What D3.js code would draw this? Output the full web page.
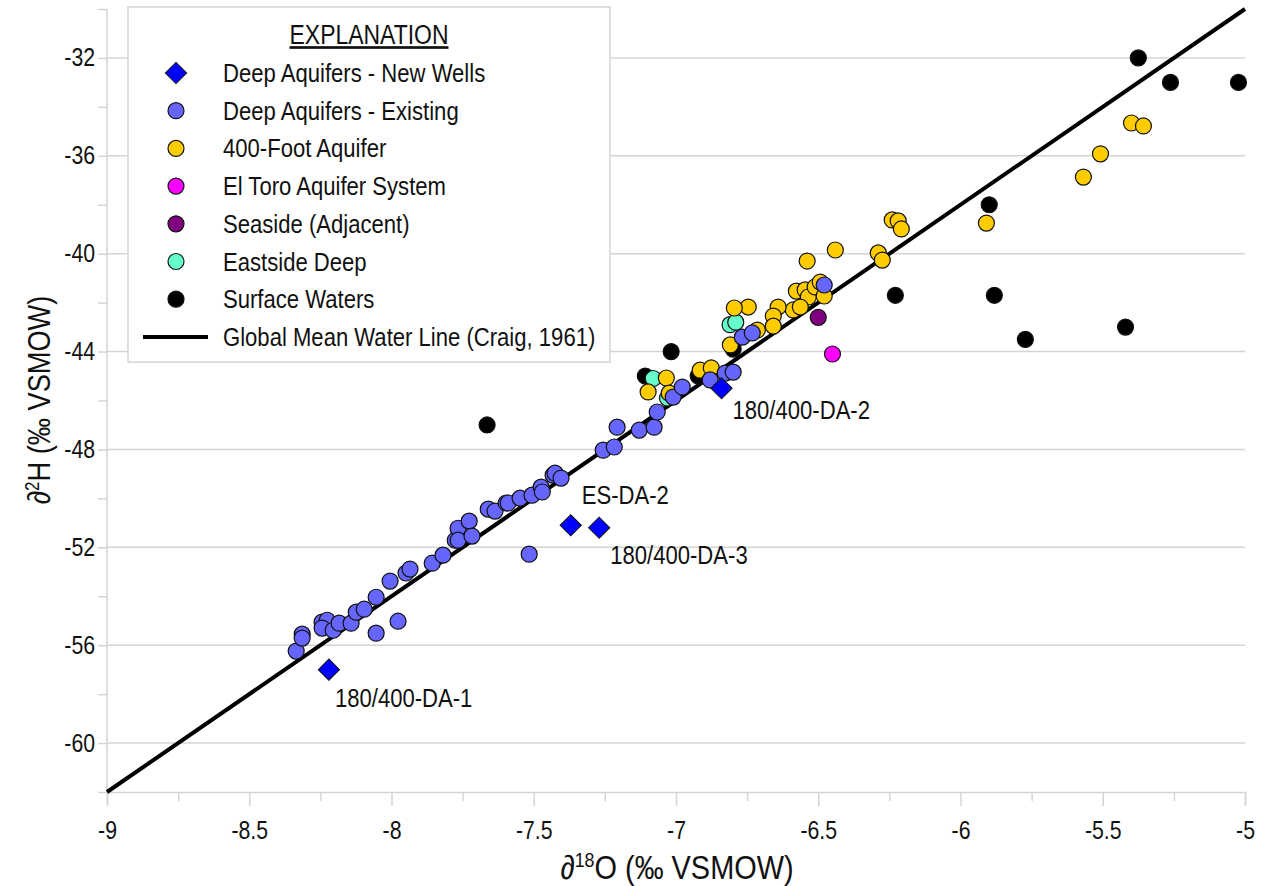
<!DOCTYPE html>
<html>
<head>
<meta charset="utf-8">
<script src="https://cdn.jsdelivr.net/npm/d3@7"></script>
<style>
  body { margin: 0; background: #fff; }
  svg text { font-family: "Liberation Sans", Arial, sans-serif; fill: #111; }
</style>
</head>
<body>
<svg id="chart" width="1263" height="886"></svg>
<script>
// ---- data (d18O, d2H in permil VSMOW) ----
var newWellsX = [-8.22, -7.37, -7.27, -6.84];
var newWellsY = [-57.0, -51.1, -51.2, -45.5];
var newWellsLabel = ["180/400-DA-1", "ES-DA-2", "180/400-DA-3", "180/400-DA-2"];

var deepX = [-8.335, -8.314, -8.314, -8.244, -8.226, -8.244, -8.205, -8.184, -8.142, -8.124,
             -8.096, -8.054, -8.005, -7.949, -7.935, -8.054, -7.977, -7.857, -7.819, -7.776,
             -7.766, -7.766, -7.727, -7.717, -7.660, -7.636, -7.597, -7.590, -7.548, -7.506,
             -7.474, -7.470, -7.432, -7.425, -7.404, -7.516, -7.256, -7.217, -7.207, -7.129,
             -7.077, -7.066, -7.010, -6.978, -6.880, -6.827, -6.799, -6.767, -6.732, -6.479];
var deepY = [-56.24, -55.55, -55.71, -55.06, -54.98, -55.30, -55.39, -55.10, -55.10, -54.65,
             -54.53, -54.04, -53.38, -53.05, -52.89, -55.51, -55.02, -52.65, -52.32, -51.71,
             -51.22, -51.71, -50.93, -51.54, -50.44, -50.52, -50.19, -50.19, -49.99, -49.87,
             -49.54, -49.74, -49.05, -48.97, -49.17, -52.28, -48.03, -47.90, -47.09, -47.21,
             -47.09, -46.47, -45.86, -45.45, -45.16, -44.88, -44.84, -43.41, -43.24, -41.28];

var ftX = [-5.399, -5.357, -5.508, -5.568, -5.909, -6.240, -6.219, -6.208, -6.289, -6.275,
           -6.440, -6.539, -6.577, -6.546, -6.535, -6.511, -6.493, -6.479, -6.588, -6.563,
           -6.641, -6.658, -6.658, -6.746, -6.795, -6.714, -6.809, -6.915, -6.876, -7.034,
           -7.098, -7.024];
var ftY = [-34.66, -34.78, -35.92, -36.87, -38.75, -38.62, -38.66, -38.99, -39.97, -40.26,
           -39.85, -40.30, -41.53, -41.48, -41.77, -41.36, -41.16, -41.73, -42.30, -42.18,
           -42.18, -42.55, -42.96, -42.18, -42.22, -43.12, -43.73, -44.76, -44.67, -45.08,
           -45.65, -45.70];

var elToroX = [-6.45];
var elToroY = [-44.1];
var seasideX = [-6.50];
var seasideY = [-42.6];
var eastX = [-6.81, -6.79, -7.08, -7.03];
var eastY = [-42.9, -42.8, -45.1, -45.9];

var surfX = [-5.375, -5.262, -5.023, -5.899, -6.229, -5.881, -5.420, -5.772, -7.017, -7.108,
             -7.664, -6.799, -6.922];
var surfY = [-32.0, -33.0, -33.0, -38.0, -41.7, -41.7, -43.0, -43.5, -44.0, -45.0,
             -47.0, -43.9, -45.0];

// Global Mean Water Line (Craig, 1961) end points
var gmwlX = [-9, -5];
var gmwlY = [-62, -30];

var xTicks = [-9, -8.5, -8, -7.5, -7, -6.5, -6, -5.5, -5];
var yTicks = [-60, -56, -52, -48, -44, -40, -36, -32];

var zip = function(xs, ys){ return xs.map(function(x, i){ return {x: x, y: ys[i]}; }); };

var series = [
  {name: "Deep Aquifers - New Wells", shape: "diamond", fill: "#0000ff", pts: zip(newWellsX, newWellsY)},
  {name: "Deep Aquifers - Existing", shape: "circle", fill: "#6666ff", pts: zip(deepX, deepY)},
  {name: "400-Foot Aquifer", shape: "circle", fill: "#ffcc00", pts: zip(ftX, ftY)},
  {name: "El Toro Aquifer System", shape: "circle", fill: "#ff00ff", pts: zip(elToroX, elToroY)},
  {name: "Seaside (Adjacent)", shape: "circle", fill: "#800080", pts: zip(seasideX, seasideY)},
  {name: "Eastside Deep", shape: "circle", fill: "#66ffcc", pts: zip(eastX, eastY)},
  {name: "Surface Waters", shape: "circle", fill: "#000000", pts: zip(surfX, surfY)}
];

// ---- layout ----
var svg = d3.select("#chart");
var pLeft = 107, pRight = 1245, pTop = 9, pBottom = 792;
var NARROW = 0.85;   // the original uses a narrow face
var R = 8;

var x = d3.scaleLinear().domain([-9, -5]).range([pLeft, pRight]);
var y = d3.scaleLinear().domain([-62, -30]).range([pBottom, pTop]);

var gridColor = "#d4d4d4";

// text placed at (tx,ty) and squeezed horizontally
function narrowText(parent, tx, ty, size, str){
  return parent.append("text")
    .attr("transform", "translate(" + tx + "," + ty + ") scale(" + NARROW + ",1)")
    .attr("font-size", size).text(str);
}

// horizontal grid
svg.append("g").selectAll("line").data(yTicks).enter().append("line")
  .attr("x1", pLeft).attr("x2", pRight)
  .attr("y1", function(d){ return y(d); }).attr("y2", function(d){ return y(d); })
  .attr("stroke", gridColor).attr("stroke-width", 1.5);

// x axis
var xAxis = d3.axisBottom(x).tickValues(d3.range(-9, -4.99, 0.25)).tickSize(13)
  .tickFormat(function(d){ return xTicks.indexOf(d) >= 0 ? String(d) : ""; });
var gx = svg.append("g").attr("transform", "translate(0," + pBottom + ")").call(xAxis);
gx.attr("font-family", null).attr("font-size", null);
gx.select(".domain").attr("stroke", gridColor).attr("stroke-width", 1.5);
gx.selectAll(".tick line").attr("stroke", gridColor).attr("stroke-width", 1.5)
  .attr("y2", function(d){ return xTicks.indexOf(d) >= 0 ? 14 : 9; });
gx.selectAll(".tick text").attr("y", 29).attr("font-size", 25).attr("fill", "#111")
  .attr("transform", "scale(" + NARROW + ",1)");

// y axis
var yAxis = d3.axisLeft(y).tickValues(d3.range(-62, -29.9, 2)).tickSize(9)
  .tickFormat(function(d){ return yTicks.indexOf(d) >= 0 ? String(d) : ""; });
var gy = svg.append("g").attr("transform", "translate(" + pLeft + ",0)").call(yAxis);
gy.attr("font-family", null).attr("font-size", null);
gy.select(".domain").attr("stroke", gridColor).attr("stroke-width", 1.5)
  .attr("d", "M0," + pTop + "V" + pBottom);
gy.selectAll(".tick line").attr("stroke", gridColor).attr("stroke-width", 1.5);
gy.selectAll(".tick text").attr("x", -12 / NARROW).attr("font-size", 25).attr("fill", "#111")
  .attr("transform", "scale(" + NARROW + ",1)");

// axis titles
svg.append("text")
  .attr("transform", "translate(" + 677 + ",879) scale(" + NARROW + ",1)")
  .attr("text-anchor", "middle").attr("font-size", 34)
  .html('∂<tspan baseline-shift="super" font-size="21">18</tspan>O (‰ VSMOW)');
svg.append("text")
  .attr("transform", "translate(50,400) rotate(-90) scale(" + NARROW + ",1)")
  .attr("text-anchor", "middle").attr("font-size", 32)
  .html('∂<tspan baseline-shift="super" font-size="20">2</tspan>H (‰ VSMOW)');

// GMWL line
var line = d3.line().x(function(d){ return x(d.x); }).y(function(d){ return y(d.y); });
svg.append("path").datum(zip(gmwlX, gmwlY)).attr("d", line)
  .attr("fill", "none").attr("stroke", "#000").attr("stroke-width", 4);

// points (draw order: surface, eastside, 400-ft, deep, others, new wells)
var order = [6, 5, 2, 1, 4, 3, 0];
var diamond = d3.symbol().type(d3.symbolSquare).size(225);
order.forEach(function(si){
  var s = series[si];
  var g = svg.append("g");
  if (s.shape === "diamond") {
    g.selectAll("path").data(s.pts).enter().append("path")
      .attr("d", diamond)
      .attr("transform", function(d){ return "translate(" + x(d.x) + "," + y(d.y) + ") rotate(45)"; })
      .attr("fill", s.fill).attr("stroke", "#111").attr("stroke-width", 1);
  } else {
    g.selectAll("circle").data(s.pts).enter().append("circle")
      .attr("cx", function(d){ return x(d.x); }).attr("cy", function(d){ return y(d.y); })
      .attr("r", R).attr("fill", s.fill).attr("stroke", "#111").attr("stroke-width", 1.2);
  }
});

// new well labels
var labelOffset = [[6, 37], [11, -21], [11, 36], [11, 31]];
var lbl = svg.append("g");
series[0].pts.forEach(function(d, i){
  narrowText(lbl, x(d.x) + labelOffset[i][0], y(d.y) + labelOffset[i][1], 26, newWellsLabel[i]);
});

// legend
var lg = svg.append("g");
lg.append("rect").attr("x", 128).attr("y", 7).attr("width", 482).attr("height", 355)
  .attr("fill", "#fff").attr("stroke", gridColor).attr("stroke-width", 1.5);
narrowText(lg, 369, 44, 27, "EXPLANATION")
  .attr("text-anchor", "middle").attr("text-decoration", "underline");
var rowY = function(i){ return 73 + i * 37.7; };
series.forEach(function(s, i){
  var cy = rowY(i);
  if (s.shape === "diamond") {
    lg.append("path").attr("d", diamond).attr("transform", "translate(176," + cy + ") rotate(45)")
      .attr("fill", s.fill).attr("stroke", "#111").attr("stroke-width", 1);
  } else {
    lg.append("circle").attr("cx", 176).attr("cy", cy).attr("r", R)
      .attr("fill", s.fill).attr("stroke", "#111").attr("stroke-width", 1.2);
  }
  narrowText(lg, 223, cy + 9, 26, s.name);
});
var ly = rowY(7);
lg.append("line").attr("x1", 143).attr("x2", 208).attr("y1", ly).attr("y2", ly)
  .attr("stroke", "#000").attr("stroke-width", 4);
narrowText(lg, 223, ly + 9, 26, "Global Mean Water Line (Craig, 1961)");
</script>
</body>
</html>
